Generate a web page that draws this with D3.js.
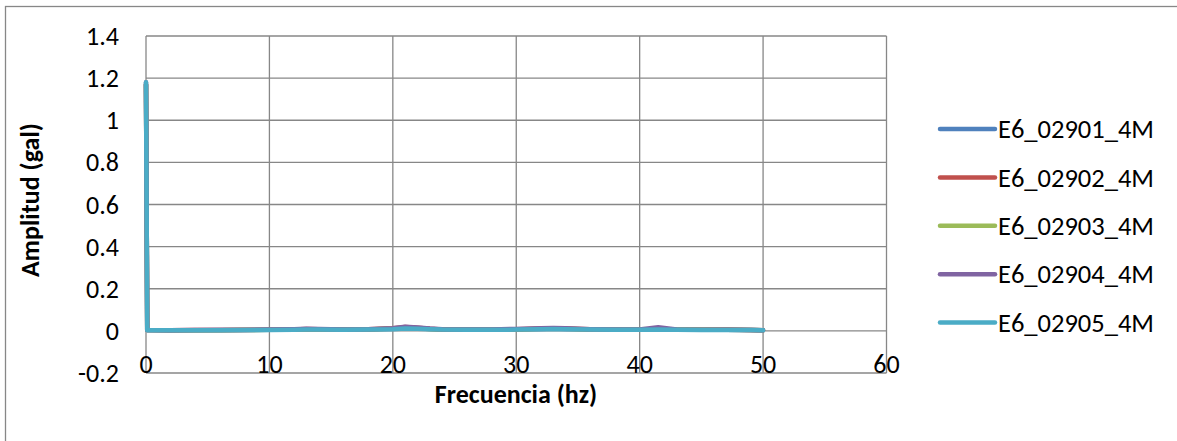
<!DOCTYPE html>
<html>
<head>
<meta charset="utf-8">
<script src="https://cdn.jsdelivr.net/npm/d3@7"></script>
<style>
  body { margin: 0; background: #fff; }
  svg { display: block; font-family: Carlito, "Open Sans", "Noto Sans", sans-serif; }
  .grid line { stroke: #878787; stroke-width: 1.3; }
  .tick-label { font-size: 26px; fill: #000; }
  .axis-title { font-size: 26px; font-weight: bold; fill: #000; }
  .legend-label { font-size: 26.5px; fill: #000; }
</style>
</head>
<body>
<svg id="chart" width="1177" height="441"></svg>
<script>
/* =======================
   DATA
======================= */
const seriesNames = ["E6_02901_4M", "E6_02902_4M", "E6_02903_4M", "E6_02904_4M", "E6_02905_4M"];
const seriesColors = ["#4F81BD", "#C0504D", "#9BBB59", "#8064A2", "#4BACC6"];

const freq = [0, 0.1, 2, 4, 6, 8, 10, 12, 13, 14, 16, 18, 20, 21, 22, 23, 24, 26, 28, 30, 32, 33, 34, 36, 38, 40, 41.5, 43, 45, 47, 49, 50];

const amp1 = [1.17, 0.004, 0.003, 0.003, 0.004, 0.004, 0.005, 0.006, 0.008, 0.007, 0.006, 0.007, 0.010, 0.014, 0.012, 0.009, 0.007, 0.006, 0.006, 0.007, 0.009, 0.011, 0.009, 0.007, 0.006, 0.006, 0.008, 0.006, 0.005, 0.005, 0.004, 0.003];
const amp2 = [1.17, 0.004, 0.003, 0.004, 0.004, 0.005, 0.005, 0.007, 0.009, 0.008, 0.006, 0.008, 0.012, 0.018, 0.015, 0.010, 0.007, 0.006, 0.006, 0.008, 0.011, 0.013, 0.011, 0.008, 0.006, 0.006, 0.009, 0.006, 0.005, 0.006, 0.004, 0.003];
const amp3 = [1.17, 0.004, 0.003, 0.003, 0.003, 0.004, 0.005, 0.006, 0.007, 0.007, 0.006, 0.007, 0.011, 0.016, 0.013, 0.009, 0.007, 0.006, 0.006, 0.007, 0.010, 0.012, 0.010, 0.007, 0.007, 0.008, 0.009, 0.007, 0.006, 0.005, 0.004, 0.003];
const amp4 = [1.18, 0.004, 0.003, 0.004, 0.004, 0.004, 0.006, 0.008, 0.010, 0.009, 0.007, 0.008, 0.013, 0.020, 0.016, 0.011, 0.008, 0.006, 0.007, 0.009, 0.012, 0.014, 0.012, 0.008, 0.006, 0.007, 0.017, 0.007, 0.005, 0.005, 0.004, 0.003];
const amp5 = [1.18, 0.003, 0.003, 0.003, 0.003, 0.004, 0.004, 0.005, 0.006, 0.006, 0.005, 0.006, 0.008, 0.011, 0.010, 0.008, 0.006, 0.005, 0.005, 0.006, 0.008, 0.009, 0.008, 0.006, 0.005, 0.005, 0.006, 0.005, 0.004, 0.004, 0.004, 0.003];
const seriesValues = [amp1, amp2, amp3, amp4, amp5];

const xTicks = [0, 10, 20, 30, 40, 50, 60];
const yTicks = [-0.2, 0, 0.2, 0.4, 0.6, 0.8, 1, 1.2, 1.4];

/* =======================
   CHART
======================= */
const svg = d3.select("#chart");

// outer chart frame
svg.append("rect")
  .attr("x", 5.5).attr("y", 6.5)
  .attr("width", 1190).attr("height", 460)
  .attr("fill", "#fff")
  .attr("stroke", "#878787")
  .attr("stroke-width", 1.3);

const xScale = d3.scaleLinear().domain([0, 60]).range([146, 886.5]);
const yScale = d3.scaleLinear().domain([-0.2, 1.4]).range([373, 36]);

// grid
const grid = svg.append("g").attr("class", "grid");
grid.selectAll(".vline").data(xTicks).enter().append("line")
  .attr("x1", d => xScale(d)).attr("x2", d => xScale(d))
  .attr("y1", yScale(1.4)).attr("y2", yScale(-0.2));
grid.selectAll(".hline").data(yTicks).enter().append("line")
  .attr("x1", xScale(0)).attr("x2", xScale(60))
  .attr("y1", d => yScale(d)).attr("y2", d => yScale(d));

// y tick labels
svg.append("g").selectAll("text").data(yTicks).enter().append("text")
  .attr("class", "tick-label")
  .attr("x", 119)
  .attr("y", d => yScale(d))
  .attr("dy", "0.35em")
  .attr("text-anchor", "end")
  .text(d => String(+d.toFixed(1)));

// x tick labels (drawn over the bottom axis, like the original)
svg.append("g").selectAll("text").data(xTicks).enter().append("text")
  .attr("class", "tick-label")
  .attr("x", d => xScale(d))
  .attr("y", yScale(-0.2))
  .attr("text-anchor", "middle")
  .text(d => d);

// axis titles
svg.append("text")
  .attr("class", "axis-title")
  .attr("x", 516).attr("y", 403)
  .attr("text-anchor", "middle")
  .text("Frecuencia (hz)");

svg.append("text")
  .attr("class", "axis-title")
  .attr("transform", "translate(39,200) rotate(-90)")
  .attr("text-anchor", "middle")
  .text("Amplitud (gal)");

// lines
const line = d3.line()
  .x((d, i) => xScale(freq[i]))
  .y(d => yScale(d));

svg.append("g").selectAll("path").data(seriesValues).enter().append("path")
  .attr("d", line)
  .attr("fill", "none")
  .attr("stroke", (d, i) => seriesColors[i])
  .attr("stroke-width", 4.5)
  .attr("stroke-linejoin", "round")
  .attr("stroke-linecap", "round");

// legend
const legend = svg.append("g").selectAll("g").data(seriesNames).enter().append("g")
  .attr("transform", (d, i) => `translate(940,${129 + i * 48.4})`);
legend.append("line")
  .attr("x1", 0).attr("x2", 55)
  .attr("stroke", (d, i) => seriesColors[i])
  .attr("stroke-width", 4.5)
  .attr("stroke-linecap", "round");
legend.append("text")
  .attr("class", "legend-label")
  .attr("x", 58).attr("dy", "0.35em")
  .text(d => d);
</script>
</body>
</html>
